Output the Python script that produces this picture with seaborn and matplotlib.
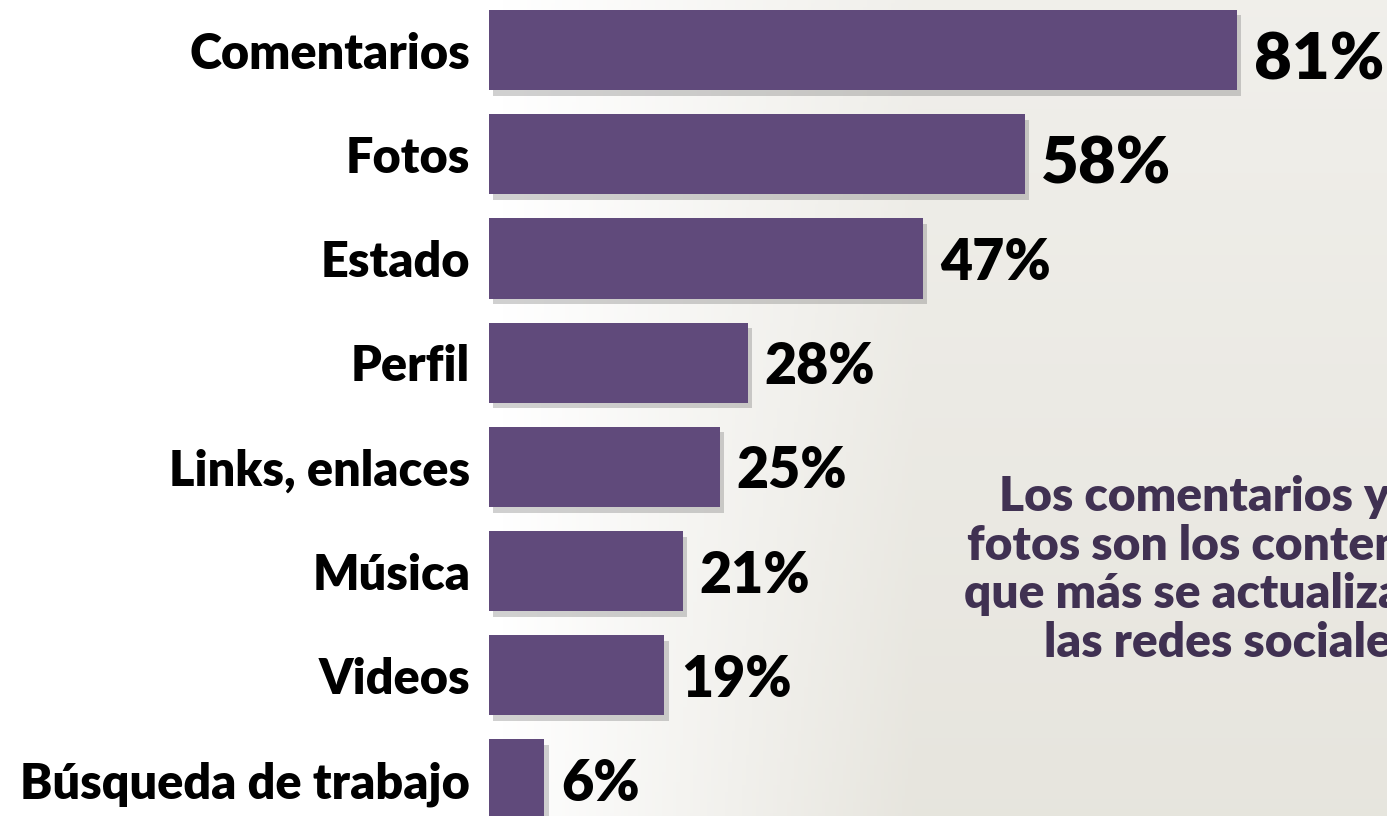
import numpy as np
import pandas as pd
import matplotlib
matplotlib.use("Agg")
import matplotlib.pyplot as plt
import matplotlib.patheffects as pe
import seaborn as sns

categories = ["Comentarios", "Fotos", "Estado", "Perfil", "Links, enlaces",
              "Música", "Videos", "Búsqueda de trabajo"]
values = [81, 58, 47, 28, 25, 21, 19, 6]
value_labels = ["81%", "58%", "47%", "28%", "25%", "21%", "19%", "6%"]
note = "Los comentarios y las\nfotos son los contenidos\nque más se actualizan en\nlas redes sociales"

BAR = "#604A7B"
NOTE = "#403152"

sns.set_style("white")
plt.rcParams["font.family"] = ["Lato", "DejaVu Sans"]

df = pd.DataFrame({"cat": categories, "val": values})

fig = plt.figure(figsize=(13.87, 8.16), dpi=100)
fig.patch.set_facecolor("white")

# soft grey backdrop standing in for the faded photo
bg = fig.add_axes([0, 0, 1, 1], zorder=0)
gx, gy = np.meshgrid(np.linspace(0, 1, 400), np.linspace(0, 1, 240))
alpha = np.clip((gx - 0.36) / 0.3, 0, 1) * (0.55 + 0.35 * gy)
img = np.zeros(gx.shape + (4,))
img[..., :3] = np.array([228, 226, 218]) / 255
img[..., 3] = alpha
bg.imshow(img, extent=[0, 1, 0, 1], aspect="auto", origin="upper")
bg.set_axis_off()

ax = fig.add_axes([489 / 1387, 0, 898 / 1387, 1], zorder=1)
ax.patch.set_alpha(0)
sns.barplot(data=df, x="val", y="cat", orient="h", color=BAR, width=0.77,
            saturation=1, linewidth=0, ax=ax)
for p in ax.patches:
    p.set_path_effects([pe.SimplePatchShadow(offset=(3, -4), shadow_rgbFace="#666666", alpha=0.3),
                        pe.Normal()])

ax.set_xlim(0, 898 / 9.235)
ax.set_ylim(7.35, -0.48)
ax.set_xlabel("")
ax.set_ylabel("")
ax.set_xticks([])
ax.tick_params(axis="y", length=0, pad=13.5)
for lbl in ax.get_yticklabels():
    lbl.set_fontsize(35)
    lbl.set_fontweight("heavy")
    lbl.set_color("black")
sns.despine(ax=ax, left=True, bottom=True)

sizes = [47, 47, 40, 40, 40, 40, 40, 40]
for i, (v, t) in enumerate(zip(values, value_labels)):
    ax.annotate(t, (v, i), xytext=(12, -4 if sizes[i] > 40 else 0), textcoords="offset points",
                ha="left", va="center_baseline", fontsize=sizes[i],
                fontweight="heavy", color="black")

fig.text(1229 / 1387, 1 - 570 / 816, note, ha="center", va="center",
         fontsize=34.5, fontweight="heavy", color=NOTE, linespacing=1.13)

fig.savefig("out.png", dpi=100)
